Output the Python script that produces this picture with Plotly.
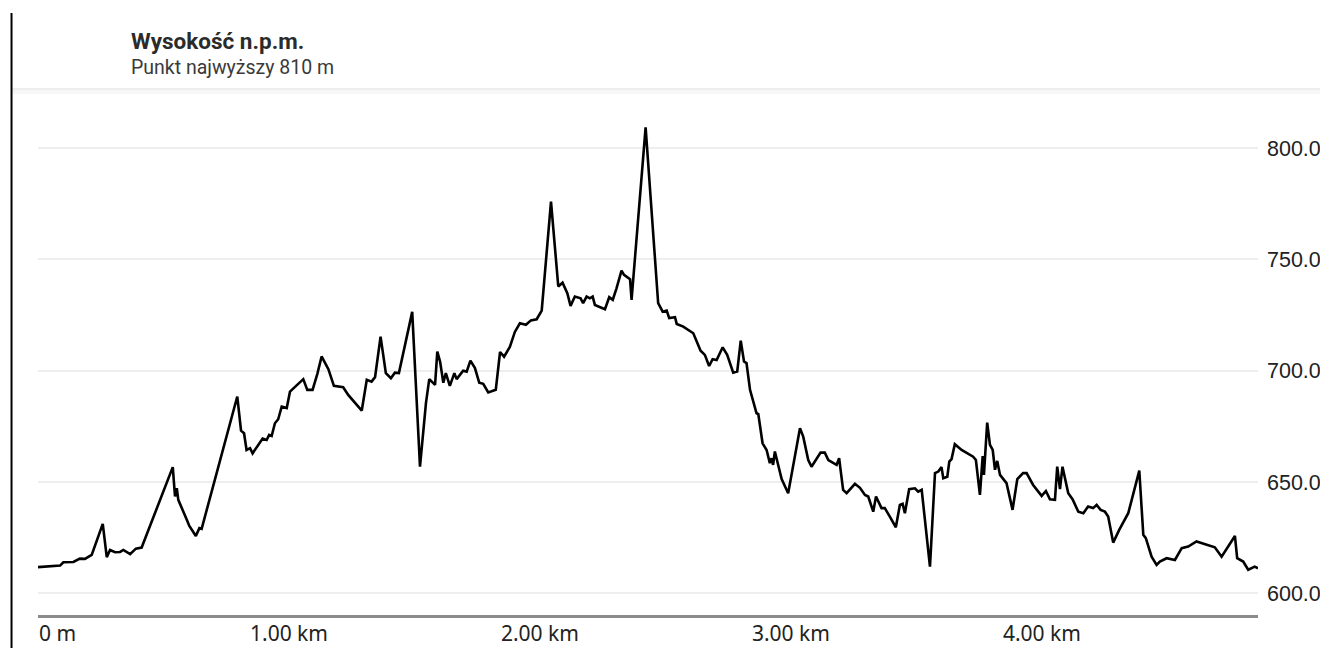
import plotly.graph_objects as go

# distance along route (m)
distance_m = [
    0, 48, 88, 101, 141, 167, 187, 214, 258, 274, 287, 307, 327, 340, 367, 390, 413,
    537, 546, 553, 559, 592, 603, 629, 643, 652, 794, 809, 821, 831, 845, 855, 884,
    895, 911, 921, 931, 944, 957, 971, 991, 1004, 1057, 1073, 1094, 1104, 1113, 1130,
    1157, 1179, 1216, 1236, 1290, 1310, 1329, 1343, 1365, 1386, 1406, 1422, 1438,
    1491, 1522, 1546, 1559, 1582, 1591, 1602, 1615, 1625, 1641, 1659, 1668, 1694,
    1708, 1723, 1741, 1758, 1774, 1794, 1824, 1841, 1857, 1880, 1900, 1920, 1944,
    1964, 1987, 2007, 2044, 2073, 2090, 2109, 2122, 2139, 2162, 2172, 2186, 2199,
    2210, 2219, 2259, 2276, 2290, 2305, 2325, 2335, 2359, 2365, 2421, 2471, 2489,
    2505, 2515, 2538, 2545, 2571, 2611, 2640, 2657, 2674, 2688, 2704, 2728, 2746,
    2770, 2786, 2800, 2813, 2823, 2837, 2863, 2870, 2887, 2903, 2916, 2923, 2929,
    2936, 2963, 2989, 3036, 3049, 3069, 3082, 3102, 3118, 3135, 3149, 3182, 3192,
    3208, 3222, 3255, 3275, 3295, 3308, 3328, 3339, 3361, 3374, 3394, 3418, 3434,
    3445, 3454, 3471, 3494, 3507, 3521, 3554, 3574, 3587, 3600, 3607, 3623, 3631,
    3640, 3653, 3680, 3726, 3737, 3753, 3764, 3769, 3782, 3793, 3804, 3813, 3822,
    3833, 3859, 3883, 3902, 3925, 3939, 3965, 3999, 4016, 4032, 4052, 4061, 4072,
    4082, 4105, 4122, 4145, 4165, 4184, 4204, 4218, 4234, 4251, 4264, 4284, 4308,
    4324, 4344, 4388, 4404, 4414, 4437, 4457, 4470, 4497, 4530, 4557, 4583, 4616,
    4656, 4689, 4716, 4769, 4778, 4802, 4822, 4848, 4861,
]

# elevation above sea level (m)
elevation_m = [
    611.8, 612.3, 612.5, 614.0, 614.1, 615.6, 615.5, 617.3, 631.2, 616.3, 619.5,
    618.5, 618.6, 619.5, 617.6, 620.1, 620.6, 656.7, 643.5, 647.2, 642.0, 633.3,
    630.3, 625.8, 629.3, 629.0, 688.4, 673.1, 671.9, 664.4, 665.2, 662.9, 667.4,
    669.5, 668.9, 671.2, 670.7, 676.4, 678.2, 683.9, 683.2, 690.6, 696.2, 691.4,
    691.4, 695.1, 698.6, 706.4, 700.7, 693.2, 692.6, 689.1, 682.1, 695.9, 695.1,
    697.1, 715.3, 698.9, 696.6, 699.1, 698.9, 726.4, 656.9, 685.7, 696.2, 693.6,
    708.6, 704.1, 694.6, 698.9, 693.2, 698.9, 696.2, 700.0, 699.6, 704.5, 701.2,
    694.6, 694.1, 690.2, 691.4, 708.4, 706.3, 710.7, 717.4, 721.3, 720.6, 722.6,
    723.1, 727.0, 775.9, 737.8, 739.5, 734.8, 729.1, 733.3, 732.5, 730.3, 733.3,
    732.5, 733.3, 729.5, 727.6, 733.0, 731.8, 737.0, 744.9, 743.0, 741.1, 731.8,
    809.3, 730.3, 726.5, 727.0, 723.6, 724.0, 721.0, 719.8, 716.8, 709.0, 707.1,
    702.1, 705.2, 704.8, 710.5, 707.1, 699.1, 699.6, 713.5, 704.1, 703.4, 691.4,
    680.9, 680.5, 667.4, 664.4, 658.5, 660.7, 657.7, 663.7, 651.3, 645.0, 674.2,
    670.4, 659.9, 656.9, 660.7, 663.2, 663.2, 659.9, 657.7, 660.7, 646.5, 645.0,
    649.2, 647.4, 644.2, 643.5, 636.7, 643.5, 638.3, 638.3, 634.5, 629.7, 639.7,
    640.2, 636.0, 646.8, 647.2, 645.7, 646.5, 612.0, 654.0, 654.7, 656.7, 651.7,
    652.4, 659.2, 660.3, 667.0, 664.4, 661.4, 659.9, 644.2, 661.7, 653.2, 676.7,
    666.7, 664.4, 655.5, 659.5, 653.2, 649.5, 637.5, 651.3, 654.0, 654.0, 648.7,
    643.8, 646.0, 642.3, 642.0, 656.9, 646.8, 656.9, 645.0, 642.3, 636.7, 636.0,
    639.0, 638.3, 639.7, 637.5, 636.7, 634.5, 622.8, 628.5, 631.8, 636.0, 655.1,
    626.3, 624.8, 616.5, 612.8, 614.3, 615.8, 615.0, 620.3, 621.0, 623.3, 621.8,
    620.7, 616.5, 625.8, 615.8, 614.3, 610.6, 612.0, 611.3,
]

x_tick_vals = [0, 1000, 2000, 3000, 4000]
x_tick_text = ["0 m", "1.00 km", "2.00 km", "3.00 km", "4.00 km"]
y_tick_vals = [600, 650, 700, 750, 800]

title_text = "Wysokość n.p.m."
subtitle_text = "Punkt najwyższy 810 m"

tick_font = dict(family="Noto Sans", size=21, color="#222222")

fig = go.Figure()
fig.add_trace(go.Scatter(
    x=distance_m, y=elevation_m, mode="lines",
    line=dict(color="#000000", width=2.6),
    hoverinfo="skip", showlegend=False,
))

# the first tick label sits left-aligned at the start of the axis
annotations = [
    dict(text=x_tick_text[0], xref="x", yref="paper", x=x_tick_vals[0], y=-0.0349,
         xanchor="left", yanchor="middle", showarrow=False, xshift=-1,
         font=tick_font),
    dict(text="<b>" + title_text + "</b>", xref="paper", yref="paper",
         x=0.0745, y=1.1124, xanchor="left", yanchor="middle", showarrow=False,
         font=dict(family="Roboto", size=22.5, color="#2b2b2b")),
    dict(text=subtitle_text, xref="paper", yref="paper",
         x=0.0745, y=1.062, xanchor="left", yanchor="middle", showarrow=False,
         font=dict(family="Roboto", size=19.5, color="#3a3a3a")),
]

fig.update_layout(
    width=1320, height=640,
    margin=dict(l=30, r=70, t=91, b=33, autoexpand=False),
    paper_bgcolor="#ffffff", plot_bgcolor="#ffffff",
    showlegend=False,
    xaxis=dict(
        range=[0, 4861], tickvals=x_tick_vals[1:], ticktext=x_tick_text[1:],
        showgrid=False, zeroline=False, showline=True,
        linecolor="#8c8c8c", linewidth=2.5, ticks="",
        ticklabeloverflow="allow", ticklabelstandoff=-2,
        tickfont=tick_font,
        automargin=False, fixedrange=True,
    ),
    yaxis=dict(
        range=[590.3, 822], side="right", tickvals=y_tick_vals, tickformat=".1f",
        showgrid=True, gridcolor="#eeeeee", gridwidth=1.5,
        zeroline=False, showline=False, ticks="",
        ticklabelstandoff=8, ticklabeloverflow="allow",
        tickfont=dict(family="Liberation Sans", size=21.5, color="#222222"),
        automargin=False, fixedrange=True,
    ),
    annotations=annotations,
    shapes=[
        dict(type="line", xref="paper", yref="paper", x0=-0.0213, x1=1.06,
             y0=1.0150, y1=1.0150, line=dict(color="#f7f7f7", width=6)),
        dict(type="line", xref="paper", yref="paper", x0=-0.0213, x1=1.06,
             y0=1.0195, y1=1.0195, line=dict(color="#ededed", width=2)),
        dict(type="line", xref="paper", yref="paper", x0=-0.0217, x1=-0.0217,
             y0=1.1667, y1=-0.07, line=dict(color="#000000", width=2)),
    ],
)

fig.write_html("out.html")
